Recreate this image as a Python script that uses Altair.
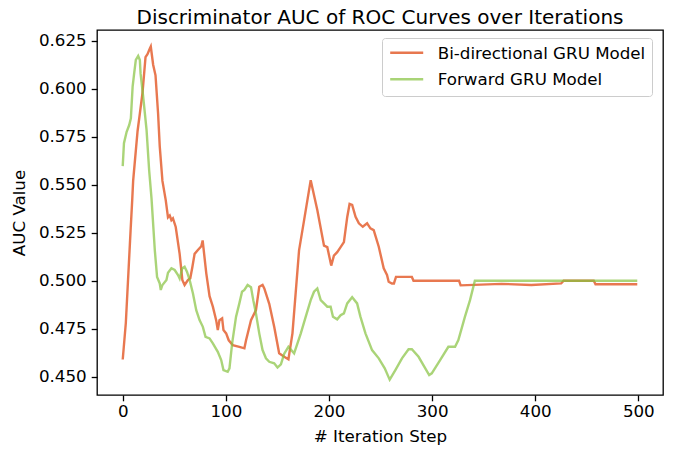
import altair as alt
import pandas as pd

# Bi-directional GRU Model
bi_x = [0, 3, 7.6, 9.2, 10.1, 14.4, 16.6, 19.2, 22.1, 24, 26.3, 27.2, 29.5, 31.8, 34.3, 35.9,
        38.5, 41.7, 43.9, 45.6, 47.2, 48.7, 51.4, 55.2, 57.8, 60, 63.2, 65.5, 67.5, 69.7, 72.9,
        76.2, 77.5, 81, 84.2, 87.4, 90.6, 92.2, 93.8, 96.4, 97.7, 100.3, 102.8, 106.7, 113.1,
        118, 119.6, 124.4, 129.2, 132.4, 135.6, 137.3, 142.1, 146.9, 151.7, 156.6, 160.7,
        164.6, 171, 175.9, 182.3, 188.7, 195.2, 198.4, 202.2, 204.8, 208, 211.3, 214.5, 217.7,
        220, 222.5, 225.8, 229, 232.8, 237, 240.2, 243.4, 248.3, 253.1, 256.3, 257.9, 261.1,
        263, 265, 280.4, 282, 326.2, 327.7, 367.3, 396.3, 425.2, 427.6, 456.8, 458.5, 499]
bi_y = [0.459, 0.478, 0.526, 0.542, 0.552, 0.578, 0.587, 0.598, 0.6165, 0.618, 0.621, 0.622,
        0.6125, 0.607, 0.587, 0.570, 0.552, 0.542, 0.533, 0.534, 0.5316, 0.5325, 0.528, 0.514,
        0.5004, 0.4978, 0.5004, 0.5013, 0.507, 0.514, 0.516, 0.518, 0.521, 0.504, 0.492,
        0.4865, 0.4795, 0.4743, 0.4795, 0.4804, 0.4743, 0.4726, 0.469, 0.4665, 0.4656, 0.4648,
        0.469, 0.4795, 0.4847, 0.4969, 0.4978, 0.496, 0.488, 0.476, 0.4622, 0.4604, 0.4591,
        0.4726, 0.5158, 0.5316, 0.5524, 0.5368, 0.5183, 0.5175, 0.5079, 0.5131, 0.5149,
        0.5175, 0.5201, 0.5331, 0.540, 0.5395, 0.5333, 0.5299, 0.5281, 0.5299, 0.5273,
        0.5264, 0.5177, 0.5065, 0.503, 0.4995, 0.4986, 0.4986, 0.502, 0.502, 0.500, 0.500,
        0.4976, 0.4984, 0.4978, 0.4986, 0.500, 0.500, 0.4982, 0.4982]

# Forward GRU Model
fw_x = [0, 1.2, 3.8, 6.3, 7.9, 9.6, 11.1, 12.7, 15, 16.6, 17.3, 19.8, 23.1, 25.6, 27.9, 31.1,
        33.3, 35.9, 36.9, 38.5, 42.4, 43.9, 47.2, 50.4, 53.6, 55.2, 57.8, 60, 62.3, 64.9,
        68.1, 71.3, 74.5, 77.7, 80.3, 84.2, 87.4, 92.2, 95.5, 97.7, 101.8, 103.5, 106.1,
        109.9, 113.1, 115.7, 118, 121.1, 124.4, 126.6, 129.2, 132.4, 135.6, 138.9, 142.1,
        146.9, 150.1, 153.4, 156.6, 160.7, 166.2, 172.7, 177.5, 182.3, 185.5, 188.7, 192,
        195.2, 198.4, 201.6, 203.9, 208, 211.3, 214.5, 217.7, 222.5, 227.3, 230.5, 235.4,
        241.8, 248.3, 254.1, 258.9, 264.4, 270.8, 277.2, 280.4, 286.9, 297.2, 299.7, 307.8,
        315.8, 322.3, 325.5, 331.9, 336.8, 341.5, 499]
fw_y = [0.5597, 0.5716, 0.5776, 0.5811, 0.5846, 0.6011, 0.608, 0.615, 0.6171, 0.615, 0.608,
        0.596, 0.5786, 0.5577, 0.543, 0.516, 0.502, 0.4986, 0.4952, 0.4978, 0.5004, 0.5042,
        0.5065, 0.5056, 0.503, 0.5012, 0.5065, 0.5073, 0.5047, 0.5004, 0.4934, 0.4847,
        0.4795, 0.476, 0.4708, 0.470, 0.4674, 0.463, 0.4587, 0.4535, 0.4526, 0.4544, 0.4674,
        0.4813, 0.4882, 0.4943, 0.4952, 0.4978, 0.4966, 0.4899, 0.483, 0.4726, 0.4639,
        0.4596, 0.4578, 0.457, 0.4548, 0.4565, 0.462, 0.4656, 0.4622, 0.4726, 0.4813,
        0.4899, 0.4943, 0.496, 0.4899, 0.4882, 0.4865, 0.4865, 0.4813, 0.4799, 0.4821,
        0.483, 0.4882, 0.4914, 0.4882, 0.4813, 0.4726, 0.4639, 0.4596, 0.4544, 0.4485,
        0.4535, 0.4596, 0.4643, 0.4643, 0.4604, 0.4509, 0.4518, 0.4587, 0.4656, 0.4656,
        0.4691, 0.4813, 0.4899, 0.500, 0.500]

series_names = ["Bi-directional GRU Model", "Forward GRU Model"]
series_colors = ["#de3e05", "#86c23e"]
x_ticks = [0, 100, 200, 300, 400, 500]
y_ticks = [0.450, 0.475, 0.500, 0.525, 0.550, 0.575, 0.600, 0.625]

rows = []
for i, (xx, yy) in enumerate(zip(bi_x, bi_y)):
    rows.append({"step": xx, "auc": yy, "model": series_names[0], "order": i})
for i, (xx, yy) in enumerate(zip(fw_x, fw_y)):
    rows.append({"step": xx, "auc": yy, "model": series_names[1], "order": i})
df = pd.DataFrame(rows)

FONT = "DejaVu Sans"
FS = 16.7

chart = alt.Chart(df).mark_line(strokeWidth=2.4, opacity=0.7).encode(
    x=alt.X("step:Q",
            scale=alt.Scale(domain=[-24.95, 523.95], nice=False, zero=False),
            axis=alt.Axis(values=x_ticks, title="# Iteration Step", format="d")),
    y=alt.Y("auc:Q",
            scale=alt.Scale(domain=[0.4405, 0.6306], nice=False, zero=False),
            axis=alt.Axis(values=y_ticks, title="AUC Value", format=".3f")),
    color=alt.Color("model:N",
                    scale=alt.Scale(domain=series_names, range=series_colors),
                    legend=alt.Legend(title=None, orient="none", legendX=285, legendY=8,
                                      symbolType="M-1,-0.6H1", symbolSize=1089,
                                      symbolStrokeWidth=2.4, symbolOpacity=0.7,
                                      labelFontSize=FS, labelFont=FONT,
                                      labelColor="black", labelBaseline="bottom",
                                      labelLimit=0, labelOffset=13, rowPadding=8.5,
                                      padding=6.7, strokeColor="#cccccc",
                                      fillColor="white", cornerRadius=3)),
    order="order:Q",
).properties(
    width=566, height=365,
    title=alt.TitleParams("Discriminator AUC of ROC Curves over Iterations",
                          font=FONT, fontSize=20, fontWeight="normal",
                          color="black", offset=2, anchor="middle"),
    padding={"left": 97, "top": 30, "right": 12, "bottom": 54},
    autosize=alt.AutoSizeParams(type="none"),
).configure_view(
    stroke="black", strokeWidth=1.3
).configure_axis(
    grid=False, domain=False, tickColor="black", tickWidth=1.3, tickSize=5.8,
    labelFont=FONT, labelFontSize=FS, labelColor="black", labelPadding=5,
    titleFont=FONT, titleFontSize=FS, titleColor="black", titleFontWeight="normal"
).configure_axisX(titlePadding=8, labelPadding=3).configure_axisY(titlePadding=10)

chart.save("out.html", embed_options={"renderer": "svg", "actions": False})
